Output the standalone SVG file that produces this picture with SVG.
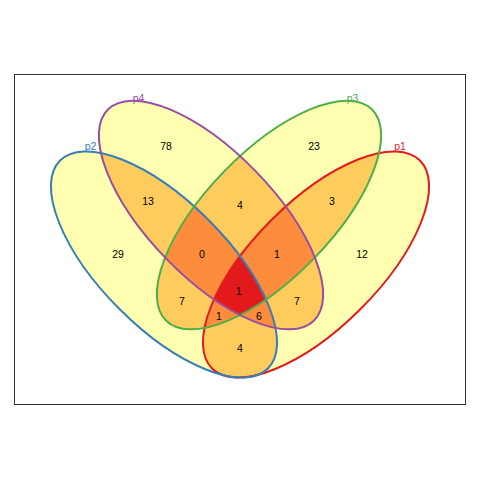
<svg xmlns="http://www.w3.org/2000/svg" xmlns:xlink="http://www.w3.org/1999/xlink" width="480" height="480" viewBox="0 0 480 480">
<style>
.f1{fill:#FFFFB2}
.f2{fill:#FECC5C}
.f3{fill:#FD8D3C}
.f4{fill:#E31A1C}
.o{fill:none;stroke-width:2}
.n{font-family:"Liberation Sans",Arial,sans-serif;font-size:10.5px;fill:#000;text-anchor:middle}
.l{font-family:"Liberation Sans",Arial,sans-serif;font-size:10.5px;text-anchor:middle}
</style>
<defs>
<ellipse id="E1" cx="316" cy="264.5" rx="147" ry="63" transform="rotate(-45 316 264.5)"/>
<ellipse id="E2" cx="164" cy="264.5" rx="147" ry="63" transform="rotate(45 164 264.5)"/>
<ellipse id="E3" cx="269" cy="215" rx="147.5" ry="62.5" transform="rotate(-45.8 269 215)"/>
<ellipse id="E4" cx="211" cy="215" rx="147.5" ry="62.5" transform="rotate(45.8 211 215)"/>
<clipPath id="c1"><use href="#E1"/></clipPath>
<clipPath id="c2"><use href="#E2"/></clipPath>
<clipPath id="c3"><use href="#E3"/></clipPath>
<clipPath id="c4"><use href="#E4"/></clipPath>
</defs>
<rect x="0" y="0" width="480" height="480" fill="#fff"/>
<rect x="14.5" y="74.5" width="451" height="330" fill="none" stroke="#333" stroke-width="1"/>
<g id="regions">
<use href="#E1" class="f1"/>
<use href="#E2" class="f1"/>
<use href="#E3" class="f1"/>
<use href="#E4" class="f1"/>
<g clip-path="url(#c1)"><use href="#E2" class="f2"/><use href="#E3" class="f2"/><use href="#E4" class="f2"/></g>
<g clip-path="url(#c2)"><use href="#E3" class="f2"/><use href="#E4" class="f2"/></g>
<g clip-path="url(#c3)"><use href="#E4" class="f2"/></g>
<g clip-path="url(#c1)"><g clip-path="url(#c2)"><use href="#E3" class="f3"/><use href="#E4" class="f3"/></g></g>
<g clip-path="url(#c1)"><g clip-path="url(#c3)"><use href="#E4" class="f3"/></g></g>
<g clip-path="url(#c2)"><g clip-path="url(#c3)"><use href="#E4" class="f3"/></g></g>
<g clip-path="url(#c1)"><g clip-path="url(#c2)"><g clip-path="url(#c3)"><use href="#E4" class="f4"/></g></g></g>
</g>
<g id="p1"><use href="#E1" class="o" stroke="#E41A1C"/><text class="l" x="400" y="150" fill="#E41A1C">p1</text></g>
<g id="p2"><use href="#E2" class="o" stroke="#377EB8"/><text class="l" x="90.5" y="150" fill="#377EB8">p2</text></g>
<g id="p3"><use href="#E3" class="o" stroke="#4DAF4A"/><text class="l" x="352.5" y="101.5" fill="#4DAF4A">p3</text></g>
<g id="p4"><use href="#E4" class="o" stroke="#984EA3"/><text class="l" x="138.5" y="101.5" fill="#984EA3">p4</text></g>
<g id="counts">
<text class="n" x="166" y="150">78</text>
<text class="n" x="314" y="150">23</text>
<text class="n" x="148" y="205">13</text>
<text class="n" x="240" y="208.5">4</text>
<text class="n" x="332" y="205">3</text>
<text class="n" x="118" y="258">29</text>
<text class="n" x="202" y="258">0</text>
<text class="n" x="277" y="258">1</text>
<text class="n" x="362" y="258">12</text>
<text class="n" x="239" y="295">1</text>
<text class="n" x="182" y="305">7</text>
<text class="n" x="297" y="305">7</text>
<text class="n" x="219" y="319.5">1</text>
<text class="n" x="259" y="319.5">6</text>
<text class="n" x="240" y="352">4</text>
</g>
</svg>
